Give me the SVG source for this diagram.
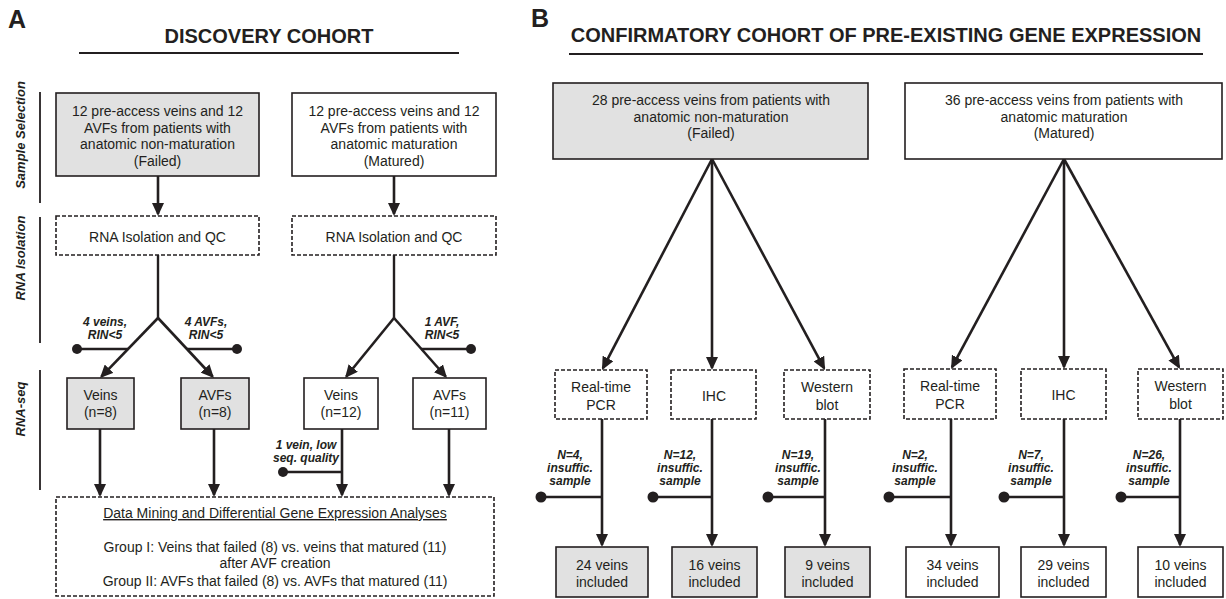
<svg xmlns="http://www.w3.org/2000/svg" width="1226" height="599" viewBox="0 0 1226 599">
<style>
text{font-family:"Liberation Sans",Arial,sans-serif;fill:#231f20}
.t{font-size:14px;text-anchor:middle}
.h{font-size:20px;font-weight:bold;text-anchor:middle}
.p{font-size:25px;font-weight:bold}
.lb{font-size:12px;font-weight:bold;font-style:italic;text-anchor:middle}
.sec{font-size:13px;font-weight:bold;font-style:italic;text-anchor:middle}
.box{fill:#fff;stroke:#231f20;stroke-width:1.6}
.gray{fill:#e1e1e1}
.dash{fill:#fff;stroke:#231f20;stroke-width:1.6;stroke-dasharray:4 2}
.ar{stroke:#231f20;stroke-width:2.6;fill:none;marker-end:url(#ah)}
.ln{stroke:#231f20;stroke-width:2.4;fill:none}
.rule{stroke:#231f20;stroke-width:1.8}
.dot{fill:#231f20}
</style>
<defs>
<marker id="ah" markerUnits="userSpaceOnUse" markerWidth="13" markerHeight="12" refX="11" refY="6" orient="auto" viewBox="0 0 13 12"><path d="M0,0 L13,6 L0,12 z" fill="#231f20"/></marker>
</defs>

<!-- Panel letters and titles -->
<g id="titles">
<text class="p" x="8" y="28">A</text>
<text class="h" x="269" y="43">DISCOVERY COHORT</text>
<line class="rule" x1="79" y1="53" x2="459" y2="53"/>
<text class="p" x="531" y="27">B</text>
<text class="h" x="886" y="42">CONFIRMATORY COHORT OF PRE-EXISTING GENE EXPRESSION</text>
<line class="rule" x1="569" y1="54" x2="1203" y2="54"/>
</g>

<!-- Section labels -->
<g id="sections">
<line class="rule" x1="40" y1="92" x2="40" y2="203"/>
<text class="sec" transform="translate(25,135) rotate(-90)">Sample Selection</text>
<line class="rule" x1="40" y1="217" x2="40" y2="343"/>
<text class="sec" transform="translate(25,258) rotate(-90)">RNA Isolation</text>
<line class="rule" x1="40" y1="370" x2="40" y2="490"/>
<text class="sec" transform="translate(25,409) rotate(-90)">RNA-seq</text>
</g>

<!-- Connectors -->
<g id="connectors">
<!-- Panel A -->
<line class="ar" x1="158" y1="176" x2="158" y2="214"/>
<line class="ar" x1="394" y1="176" x2="394" y2="214"/>
<polyline class="ln" points="158,255 158,318"/>
<polyline class="ln" points="394,255 394,318"/>
<line class="ar" x1="158" y1="318" x2="101.4" y2="376.6"/>
<line class="ar" x1="158" y1="318" x2="212.6" y2="376.5"/>
<line class="ar" x1="394" y1="318" x2="346.3" y2="376.5"/>
<line class="ar" x1="394" y1="318" x2="445.7" y2="376.5"/>
<line class="ln" x1="77" y1="349" x2="128" y2="349"/><circle class="dot" cx="77" cy="349" r="5"/>
<line class="ln" x1="187" y1="349" x2="237" y2="349"/><circle class="dot" cx="237" cy="349" r="5"/>
<line class="ln" x1="421" y1="349" x2="471" y2="349"/><circle class="dot" cx="471" cy="349" r="5"/>
<line class="ar" x1="100" y1="429" x2="100" y2="495"/>
<line class="ar" x1="214" y1="429" x2="214" y2="495"/>
<line class="ar" x1="342" y1="429" x2="342" y2="495"/>
<line class="ar" x1="449" y1="429" x2="449" y2="495"/>
<line class="ln" x1="283" y1="472" x2="342" y2="472"/><circle class="dot" cx="283" cy="472" r="5"/>
<!-- Panel B -->
<line class="ar" x1="712" y1="159" x2="602.9" y2="368.2"/>
<line class="ar" x1="712" y1="159" x2="712" y2="368"/>
<line class="ar" x1="712" y1="159" x2="824.1" y2="368.2"/>
<line class="ar" x1="1064" y1="159" x2="952" y2="367.2"/>
<line class="ar" x1="1064" y1="159" x2="1064" y2="367"/>
<line class="ar" x1="1064" y1="159" x2="1179" y2="367.2"/>
<line class="ar" x1="602" y1="419" x2="602" y2="545"/>
<line class="ar" x1="712" y1="419" x2="712" y2="545"/>
<line class="ar" x1="825" y1="419" x2="825" y2="545"/>
<line class="ar" x1="951" y1="419" x2="951" y2="545"/>
<line class="ar" x1="1064" y1="419" x2="1064" y2="545"/>
<line class="ar" x1="1180" y1="419" x2="1180" y2="545"/>
<line class="ln" x1="541" y1="497" x2="602" y2="497"/><circle class="dot" cx="541" cy="497" r="5.5"/>
<line class="ln" x1="653" y1="497" x2="712" y2="497"/><circle class="dot" cx="653" cy="497" r="5.5"/>
<line class="ln" x1="768" y1="497" x2="825" y2="497"/><circle class="dot" cx="768" cy="497" r="5.5"/>
<line class="ln" x1="889" y1="497" x2="951" y2="497"/><circle class="dot" cx="889" cy="497" r="5.5"/>
<line class="ln" x1="1004" y1="497" x2="1064" y2="497"/><circle class="dot" cx="1004" cy="497" r="5.5"/>
<line class="ln" x1="1121" y1="497" x2="1180" y2="497"/><circle class="dot" cx="1121" cy="497" r="5.5"/>
</g>

<!-- Connector labels -->
<g id="labels">
<text class="lb" x="105" y="326">4 veins,</text><text class="lb" x="105" y="339">RIN&lt;5</text>
<text class="lb" x="206" y="326">4 AVFs,</text><text class="lb" x="206" y="339">RIN&lt;5</text>
<text class="lb" x="442" y="326">1 AVF,</text><text class="lb" x="442" y="339">RIN&lt;5</text>
<text class="lb" x="306" y="449">1 vein, low</text><text class="lb" x="306" y="462">seq. quality</text>
<text class="lb" x="570" y="459">N=4,</text><text class="lb" x="570" y="472">insuffic.</text><text class="lb" x="570" y="485">sample</text>
<text class="lb" x="680" y="459">N=12,</text><text class="lb" x="680" y="472">insuffic.</text><text class="lb" x="680" y="485">sample</text>
<text class="lb" x="798" y="459">N=19,</text><text class="lb" x="798" y="472">insuffic.</text><text class="lb" x="798" y="485">sample</text>
<text class="lb" x="915" y="459">N=2,</text><text class="lb" x="915" y="472">insuffic.</text><text class="lb" x="915" y="485">sample</text>
<text class="lb" x="1031" y="459">N=7,</text><text class="lb" x="1031" y="472">insuffic.</text><text class="lb" x="1031" y="485">sample</text>
<text class="lb" x="1149" y="459">N=26,</text><text class="lb" x="1149" y="472">insuffic.</text><text class="lb" x="1149" y="485">sample</text>
</g>

<!-- Panel A nodes -->
<g id="a-failed"><rect class="box gray" x="56" y="93" width="203" height="83"/>
<text class="t" x="157.5" y="116">12 pre-access veins and 12</text><text class="t" x="157.5" y="132.7">AVFs from patients with</text><text class="t" x="157.5" y="149.4">anatomic non-maturation</text><text class="t" x="157.5" y="166">(Failed)</text></g>
<g id="a-matured"><rect class="box" x="292" y="93" width="204" height="83"/>
<text class="t" x="394" y="116">12 pre-access veins and 12</text><text class="t" x="394" y="132.7">AVFs from patients with</text><text class="t" x="394" y="149.4">anatomic maturation</text><text class="t" x="394" y="166">(Matured)</text></g>
<g id="a-rna1"><rect class="dash" x="56" y="216" width="203" height="39"/><text class="t" x="157.5" y="242">RNA Isolation and QC</text></g>
<g id="a-rna2"><rect class="dash" x="292" y="216" width="204" height="39"/><text class="t" x="394" y="242">RNA Isolation and QC</text></g>
<g id="a-veins8"><rect class="box gray" x="67" y="378" width="67" height="51"/><text class="t" x="100.5" y="400">Veins</text><text class="t" x="100.5" y="417">(n=8)</text></g>
<g id="a-avfs8"><rect class="box gray" x="181" y="378" width="68" height="51"/><text class="t" x="215" y="400">AVFs</text><text class="t" x="215" y="417">(n=8)</text></g>
<g id="a-veins12"><rect class="box" x="304" y="378" width="74" height="51"/><text class="t" x="341" y="400">Veins</text><text class="t" x="341" y="417">(n=12)</text></g>
<g id="a-avfs11"><rect class="box" x="413" y="378" width="73" height="51"/><text class="t" x="449.5" y="400">AVFs</text><text class="t" x="449.5" y="417">(n=11)</text></g>
<g id="a-analysis"><rect class="dash" x="56" y="497" width="438" height="99"/>
<text class="t" x="275" y="518" text-decoration="underline">Data Mining and Differential Gene Expression Analyses</text>
<text class="t" x="275" y="552">Group I: Veins that failed (8) vs. veins that matured (11)</text>
<text class="t" x="275" y="568">after AVF creation</text>
<text class="t" x="275" y="586">Group II: AVFs that failed (8) vs. AVFs that matured (11)</text></g>

<!-- Panel B nodes -->
<g id="b-failed"><rect class="box gray" x="553" y="83" width="315" height="76"/>
<text class="t" x="711" y="105">28 pre-access veins from patients with</text><text class="t" x="711" y="122">anatomic non-maturation</text><text class="t" x="711" y="138">(Failed)</text></g>
<g id="b-matured"><rect class="box" x="905" y="83" width="317" height="76"/>
<text class="t" x="1064" y="105">36 pre-access veins from patients with</text><text class="t" x="1064" y="122">anatomic maturation</text><text class="t" x="1064" y="138">(Matured)</text></g>
<g id="b-pcr1"><rect class="dash" x="555" y="370" width="92" height="49"/><text class="t" x="601" y="392">Real-time</text><text class="t" x="601" y="410">PCR</text></g>
<g id="b-ihc1"><rect class="dash" x="671" y="370" width="85" height="49"/><text class="t" x="714" y="401">IHC</text></g>
<g id="b-wb1"><rect class="dash" x="784" y="370" width="86" height="49"/><text class="t" x="827" y="392">Western</text><text class="t" x="827" y="410">blot</text></g>
<g id="b-pcr2"><rect class="dash" x="904" y="369" width="92" height="50"/><text class="t" x="950" y="391">Real-time</text><text class="t" x="950" y="409">PCR</text></g>
<g id="b-ihc2"><rect class="dash" x="1021" y="369" width="85" height="50"/><text class="t" x="1063.5" y="400">IHC</text></g>
<g id="b-wb2"><rect class="dash" x="1138" y="369" width="85" height="50"/><text class="t" x="1180.5" y="391">Western</text><text class="t" x="1180.5" y="409">blot</text></g>
<g id="b-inc24"><rect class="box gray" x="556" y="547" width="92" height="50"/><text class="t" x="602" y="570">24 veins</text><text class="t" x="602" y="587">included</text></g>
<g id="b-inc16"><rect class="box gray" x="672" y="547" width="85" height="50"/><text class="t" x="714.5" y="570">16 veins</text><text class="t" x="714.5" y="587">included</text></g>
<g id="b-inc9"><rect class="box gray" x="785" y="547" width="85" height="50"/><text class="t" x="827.5" y="570">9 veins</text><text class="t" x="827.5" y="587">included</text></g>
<g id="b-inc34"><rect class="box" x="906" y="547" width="93" height="50"/><text class="t" x="952.5" y="570">34 veins</text><text class="t" x="952.5" y="587">included</text></g>
<g id="b-inc29"><rect class="box" x="1021" y="547" width="85" height="50"/><text class="t" x="1063.5" y="570">29 veins</text><text class="t" x="1063.5" y="587">included</text></g>
<g id="b-inc10"><rect class="box" x="1138" y="547" width="85" height="50"/><text class="t" x="1180.5" y="570">10 veins</text><text class="t" x="1180.5" y="587">included</text></g>
</svg>
